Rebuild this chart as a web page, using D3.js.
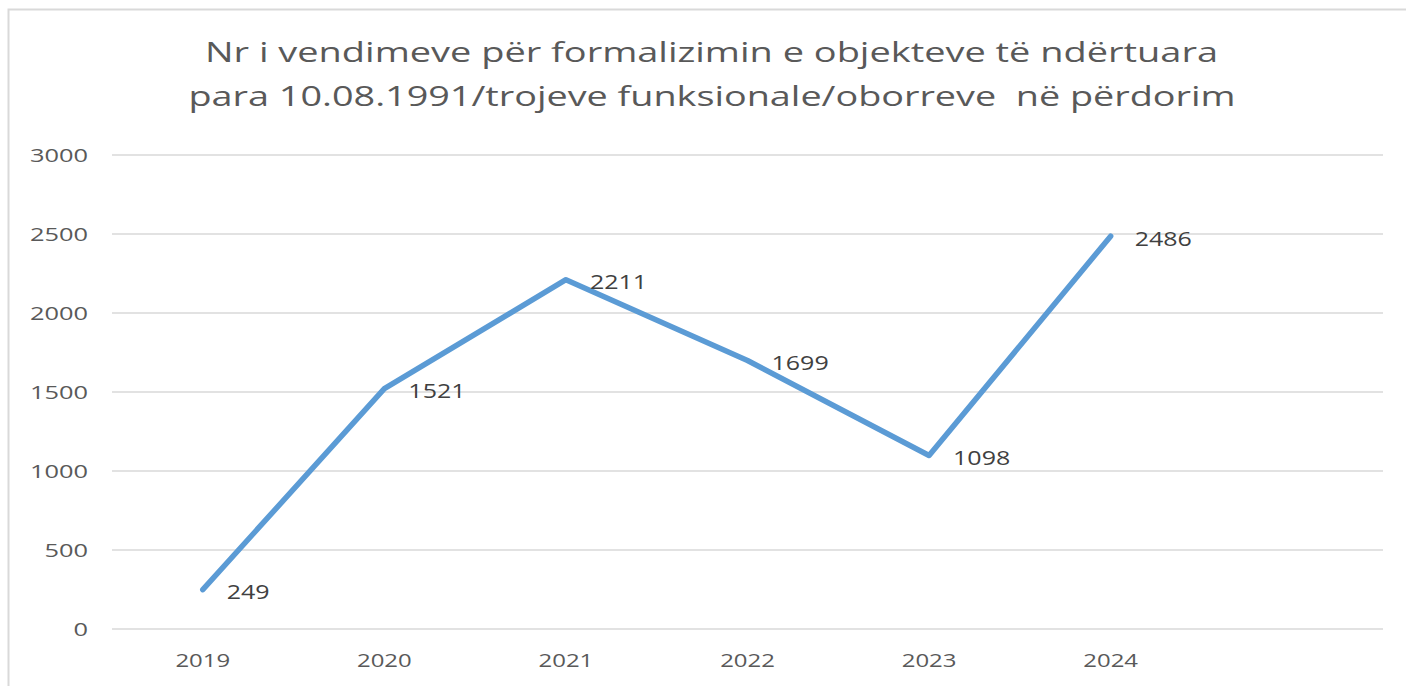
<!DOCTYPE html>
<html>
<head>
<meta charset="utf-8">
<script src="https://cdn.jsdelivr.net/npm/d3@7"></script>
<style>
  html, body { margin: 0; padding: 0; background: #fff; overflow: hidden; }
  svg { display: block; font-family: "Open Sans", "Noto Sans", sans-serif; }
</style>
</head>
<body>
<svg width="1406" height="686"></svg>
<script>
const titleLines = [
  "Nr i vendimeve për formalizimin e objekteve të ndërtuara",
  "para 10.08.1991/trojeve funksionale/oborreve\u00a0 në përdorim"
];
const years = ["2019", "2020", "2021", "2022", "2023", "2024"];
const values = [249, 1521, 2211, 1699, 1098, 2486];
const yTicks = [0, 500, 1000, 1500, 2000, 2500, 3000];

const width = 1406;
const height = 686;
const margin = { left: 112, right: 23, top: 155, bottom: 57 };

const svg = d3.select("svg");

// stretch text horizontally (the reference is rendered wide)
const stretch = (sel, k) => sel.each(function() {
  const w = this.getComputedTextLength();
  d3.select(this).attr("textLength", w * k).attr("lengthAdjust", "spacingAndGlyphs");
});

// chart frame: only the top and left edges are inside the picture
svg.append("path")
  .attr("d", `M8.5,${height}V9.5H${width}`)
  .attr("fill", "none")
  .attr("stroke", "#d9d9d9")
  .attr("stroke-width", 2);

// band scale with one spare slot on the right, as in the original
const x = d3.scaleBand()
  .domain(years.concat(["_"]))
  .range([margin.left, width - margin.right]);
const xc = d => x(d) + x.bandwidth() / 2;

const y = d3.scaleLinear()
  .domain([0, 3000])
  .range([height - margin.bottom, margin.top]);

// title
const titleWidths = [1013, 1047];
svg.append("g").selectAll("text")
  .data(titleLines)
  .enter().append("text")
  .attr("x", (d, i) => i === 0 ? 711.5 : 712)
  .attr("y", (d, i) => 62 + i * 44)
  .attr("text-anchor", "middle")
  .attr("fill", "#595959")
  .style("font-size", "27px")
  .attr("textLength", (d, i) => titleWidths[i])
  .attr("lengthAdjust", "spacingAndGlyphs")
  .text(d => d);

// gridlines
svg.append("g")
  .attr("stroke", "#d9d9d9")
  .attr("stroke-width", 1.5)
  .selectAll("line")
  .data(yTicks)
  .enter().append("line")
  .attr("x1", margin.left)
  .attr("x2", width - margin.right)
  .attr("y1", d => y(d))
  .attr("y2", d => y(d));

// y axis labels
const yAxis = svg.append("g")
  .attr("transform", "translate(88,0)")
  .call(d3.axisLeft(y).tickValues(yTicks).tickFormat(d3.format("d")).tickSize(0).tickPadding(0));
yAxis.select(".domain").remove();
yAxis.selectAll("text")
  .attr("fill", "#595959")
  .attr("dy", "0.36em")
  .style("font-size", "18px")
  .style("font-family", "\"Open Sans\", \"Noto Sans\", sans-serif")
  .call(stretch, 1.41);

// x axis labels
const xAxis = svg.append("g")
  .attr("transform", `translate(0,${height - margin.bottom})`)
  .call(d3.axisBottom(x).tickValues(years).tickSize(0).tickPadding(0));
xAxis.select(".domain").remove();
xAxis.selectAll("text")
  .attr("fill", "#595959")
  .attr("y", 38)
  .attr("dy", 0)
  .style("font-size", "18px")
  .style("font-family", "\"Open Sans\", \"Noto Sans\", sans-serif")
  .call(stretch, 1.33);

// line
const line = d3.line()
  .x((d, i) => xc(years[i]))
  .y(d => y(d));

svg.append("path")
  .datum(values)
  .attr("fill", "none")
  .attr("stroke", "#5b9bd5")
  .attr("stroke-width", 5.5)
  .attr("stroke-linecap", "round")
  .attr("stroke-linejoin", "round")
  .attr("d", line);

// data labels
svg.append("g").selectAll("text")
  .data(values)
  .enter().append("text")
  .attr("x", (d, i) => xc(years[i]) + 24)
  .attr("y", d => y(d) + 9.5)
  .attr("fill", "#404040")
  .style("font-size", "20px")
  .text(d => d)
  .call(stretch, 1.25);
</script>
</body>
</html>
